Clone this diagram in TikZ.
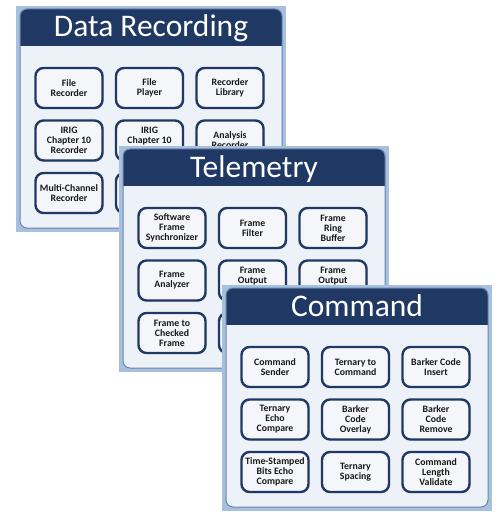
\documentclass[tikz,border=0pt]{standalone}
\usepackage{fontspec}
\setmainfont{Carlito}
\usepackage{tikz}
\usetikzlibrary{shadows}
\usepackage{xcolor}
\definecolor{navy}{RGB}{31,56,100}
\definecolor{framefill}{RGB}{166,192,222}
\definecolor{bodyline}{RGB}{112,132,165}
\definecolor{bodyfill}{RGB}{237,242,249}
\definecolor{tilefill}{RGB}{244,246,249}
\definecolor{ink}{RGB}{25,25,25}

% frame, body and title bar of one panel: #1 name, #2 title
\newcommand{\infopanel}[2]{%
  \fill[framefill] (0,0) rectangle (270,226);
  \begin{scope}
    \clip[rounded corners=7pt] (4,3) rectangle (266,222);
    \fill[bodyfill] (4,3) rectangle (266,222);
    \fill[navy] (4,3) rectangle (266,40);
  \end{scope}
  \draw[bodyline, line width=1pt, rounded corners=7pt] (4,3) rectangle (266,222);
  \node[paneltitle] (#1) at (135,31) {#2};
}

\begin{document}
\begin{tikzpicture}[x=1pt, y=-1pt,
  tile/.style={draw=navy, line width=2.4pt, fill=tilefill, rounded corners=8pt,
    minimum width=67pt, minimum height=40pt, inner sep=0pt, align=center,
    text=ink, font=\fontsize{9.8}{10}\selectfont\bfseries,
    drop shadow={shadow xshift=1pt, shadow yshift=-1pt, opacity=0.35}},
  paneltitle/.style={text=white, anchor=base, font=\fontsize{31.5}{36}\selectfont}]
  \useasboundingbox (0,0) rectangle (495,513);
  % Data Recording
  \begin{scope}[shift={(16,6)}]
    \infopanel{dr}{Data Recording}
    \node[tile] (dr-filerec) at (53,82) {File\\Recorder};
    \node[tile] (dr-fileplay) at (133.5,82) {File\\Player};
    \node[tile] (dr-reclib) at (214,82) {Recorder\\Library};
    \node[tile] (dr-irigrec) at (53,134.5) {IRIG\\Chapter 10\\Recorder};
    \node[tile] (dr-irig) at (133.5,134.5) {IRIG\\Chapter 10\\\mbox{}};
    \node[tile] (dr-anarec) at (214,134.5) {Analysis\\Recorder};
    \node[tile] (dr-multi) at (53,187) {Multi-Channel\\Recorder};
    \node[tile] (dr-hid1) at (133.5,187) {};
    \node[tile] (dr-hid2) at (214,187) {};
  \end{scope}
  % Telemetry
  \begin{scope}[shift={(119,146)}]
    \infopanel{tm}{Telemetry}
    \node[tile] (tm-sync) at (53,82) {Software\\Frame\\Synchronizer};
    \node[tile] (tm-filter) at (133.5,82) {Frame\\Filter};
    \node[tile] (tm-ring) at (214,82) {Frame\\Ring\\Buffer};
    \node[tile] (tm-analyzer) at (53,134.5) {Frame\\Analyzer};
    \node[tile] (tm-out1) at (133.5,134.5) {Frame\\Output\\\mbox{}};
    \node[tile] (tm-out2) at (214,134.5) {Frame\\Output\\\mbox{}};
    \node[tile] (tm-checked) at (53,187) {Frame to\\Checked\\Frame};
    \node[tile] (tm-hid1) at (133.5,187) {};
    \node[tile] (tm-hid2) at (214,187) {};
  \end{scope}
  % Command
  \begin{scope}[shift={(222,285)}]
    \infopanel{cm}{Command}
    \node[tile] (cm-sender) at (53,82) {Command\\Sender};
    \node[tile] (cm-tern2cmd) at (133.5,82) {Ternary to\\Command};
    \node[tile] (cm-bkinsert) at (214,82) {Barker Code\\Insert};
    \node[tile] (cm-ternecho) at (53,134.5) {Ternary\\Echo\\Compare};
    \node[tile] (cm-bkoverlay) at (133.5,134.5) {Barker\\Code\\Overlay};
    \node[tile] (cm-bkremove) at (214,134.5) {Barker\\Code\\Remove};
    \node[tile] (cm-bitsecho) at (53,187) {Time-Stamped\\Bits Echo\\Compare};
    \node[tile] (cm-ternspace) at (133.5,187) {Ternary\\Spacing};
    \node[tile] (cm-lenval) at (214,187) {Command\\Length\\Validate};
  \end{scope}
\end{tikzpicture}
\end{document}
